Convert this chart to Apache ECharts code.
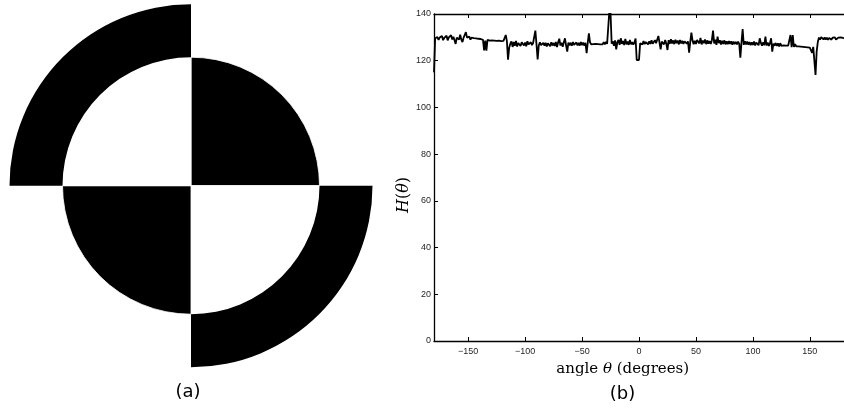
<!DOCTYPE html>
<html>
<head>
<meta charset="utf-8">
<script src="https://cdn.jsdelivr.net/npm/echarts@6/dist/echarts.min.js"></script>
<style>
html,body{margin:0;padding:0;background:#fff;}
#chart{width:844px;height:413px;}
</style>
</head>
<body>
<div id="chart"></div>
<script>
// ---- Panel (a): quadrant pattern ----
const quadrantNames = ['upper-right', 'lower-right', 'lower-left', 'upper-left'];
const quadrantValues = [1, 1, 1, 1];
const innerColors = ['#000000', '#ffffff', '#000000', '#ffffff'];
const outerColors = ['rgba(0,0,0,0)', '#000000', 'rgba(0,0,0,0)', '#000000'];

// ---- Panel (b): H(theta) ----
const thetaStart = -180; // degrees, 1-degree sampling
const H = [
  115.0,129.6,129.0,130.1,128.9,129.9,129.2,130.6,128.8,129.8, // -180..-171
  129.0,130.7,128.7,130.0,129.3,130.9,129.1,130.2,128.8,127.2, // -170..-161
  129.9,130.4,129.1,131.1,129.0,128.0,129.9,129.3,132.2,129.9, // -160..-151
  129.4,130.3,129.0,129.9,129.2,129.7,129.0,129.6,128.9,129.4, // -150..-141
  128.9,129.3,128.8,128.9,124.4,128.6,124.3,128.9,129.1,128.6, // -140..-131
  129.0,128.7,129.1,128.6,129.0,128.5,128.9,128.6,129.0,128.4, // -130..-121
  128.9,128.5,129.2,131.0,128.4,120.4,125.6,127.3,128.3,125.9, // -120..-111
  128.0,126.4,128.5,126.1,127.6,128.4,126.3,127.9,128.7,126.5, // -110..-101
  127.8,126.2,128.3,127.0,126.4,127.9,126.7,127.6,127.9,132.9, // -100..-91
  127.0,120.6,126.5,127.9,126.7,126.0,127.6,126.4,127.7,126.1, // -90..-81
  127.5,128.3,126.2,127.9,126.5,127.6,126.3,128.0,125.9,127.9, // -80..-71
  129.4,126.5,127.7,126.0,127.9,129.6,126.5,123.9,127.8,126.6, // -70..-61
  127.7,126.4,128.0,126.8,126.1,127.8,126.6,127.6,126.5,128.0, // -60..-51
  126.7,127.8,126.4,127.6,123.2,127.7,131.7,127.9,127.0,127.8, // -50..-41
  127.1,127.6,127.2,127.8,127.1,127.5,127.0,127.8,127.0,127.9, // -40..-31
  127.0,128.1,127.2,127.6,141.5,140.5,127.3,128.3,126.4,128.7, // -30..-21
  124.9,127.9,128.9,126.8,129.6,127.2,128.4,126.7,129.3,127.0, // -20..-11
  128.2,126.8,128.9,127.0,127.9,126.9,127.8,129.5,120.3,120.4, // -10..-1
  120.3,127.4,128.2,127.0,128.4,127.1,128.0,128.6,127.0,128.3, // 0..9
  127.2,128.7,127.3,126.8,128.8,127.5,126.9,130.6,127.8,124.9, // 10..19
  128.2,128.6,127.0,128.9,127.3,124.6,128.8,127.2,129.2,127.4, // 20..29
  128.7,127.1,129.0,127.5,128.6,127.0,128.9,127.4,128.5,127.2, // 30..39
  128.3,128.8,127.3,128.3,123.4,128.1,132.0,128.6,127.1,128.5, // 40..49
  127.2,128.9,129.5,127.4,129.8,127.0,128.6,127.5,129.1,127.1, // 50..59
  128.7,127.3,128.4,127.2,128.8,132.9,127.4,129.0,126.8,130.3, // 60..69
  127.5,128.8,126.9,128.5,127.2,128.7,127.0,128.3,127.1,128.4, // 70..79
  127.2,128.3,126.9,128.2,127.1,128.1,127.0,128.2,127.2,121.3, // 80..89
  127.9,133.5,126.8,128.3,127.0,128.2,126.9,128.0,126.7,127.9, // 90..99
  126.8,128.2,126.5,127.8,127.9,126.6,129.6,127.6,126.4,127.9, // 100..109
  126.6,130.3,126.5,127.8,126.3,127.6,129.6,123.9,127.3,126.4, // 110..119
  127.6,126.3,127.4,126.1,127.5,126.4,127.0,126.6,127.1,126.5, // 120..129
  127.0,126.5,126.9,131.0,125.8,131.0,125.9,127.1,126.2,127.0, // 130..139
  126.1,126.9,126.0,126.8,125.9,126.7,125.8,126.6,125.7,126.5, // 140..149
  125.6,126.4,123.4,125.9,125.6,113.9,124.0,128.0,129.9,129.0, // 150..159
  130.1,130.9,129.1,130.0,129.0,129.9,128.9,129.8,130.1,129.0, // 160..169
  129.9,129.1,130.0,129.0,129.8,129.9,129.1,130.0,129.2,129.8, // 170..179
  129.5                                                         // 180
];
const xTicks = [-150, -100, -50, 0, 50, 100, 150];

const lineData = H.map((v, i) => [thetaStart + i, v]);
const minus = s => String(s).replace('-', '\u2212');

const chart = echarts.init(document.getElementById('chart'), null, {renderer: 'canvas'});

const tickFont = {fontFamily: 'Liberation Sans, Arial, sans-serif', fontSize: 9, color: '#262626'};

chart.setOption({
  animation: false,
  backgroundColor: '#ffffff',
  grid: {left: 434, top: 14, right: -6, bottom: 72, containLabel: false},
  xAxis: [{
    type: 'value', min: -180, max: 180, position: 'bottom',
    axisLine: {show: true, onZero: false, lineStyle: {color: '#000', width: 1.3}},
    axisTick: {show: true, inside: true, length: 4, customValues: xTicks, lineStyle: {color: '#000'}},
    axisLabel: Object.assign({show: true, customValues: xTicks, margin: 6, formatter: v => minus(v)}, tickFont),
    splitLine: {show: false}
  }, {
    type: 'value', min: -180, max: 180, position: 'top',
    axisLine: {show: true, onZero: false, lineStyle: {color: '#000', width: 1.3}},
    axisTick: {show: true, inside: true, length: 4, customValues: xTicks, lineStyle: {color: '#000'}},
    axisLabel: {show: false},
    splitLine: {show: false}
  }],
  yAxis: {
    type: 'value', min: 0, max: 140, interval: 20,
    axisLine: {show: true, onZero: false, lineStyle: {color: '#000', width: 1.3}},
    axisTick: {show: true, inside: true, length: 4, lineStyle: {color: '#000'}},
    axisLabel: Object.assign({show: true, margin: 3}, tickFont),
    splitLine: {show: false}
  },
  series: [{
    type: 'line', xAxisIndex: 0, yAxisIndex: 0,
    data: lineData, showSymbol: false, symbol: 'none', clip: true,
    lineStyle: {color: '#000', width: 1.8},
    silent: true
  }, {
    type: 'pie', center: [191, 185.7], radius: [0, 128.5],
    startAngle: 90, clockwise: true, silent: true,
    label: {show: false}, labelLine: {show: false},
    emphasis: {disabled: true},
    itemStyle: {borderColor: '#ffffff', borderWidth: 0.8},
    data: quadrantNames.map((n, i) => ({name: n, value: quadrantValues[i], itemStyle: {color: innerColors[i]}}))
  }, {
    type: 'pie', center: [191, 185.7], radius: [128.5, 181.5],
    startAngle: 90, clockwise: true, silent: true,
    label: {show: false}, labelLine: {show: false},
    emphasis: {disabled: true},
    itemStyle: {borderColor: 'rgba(255,255,255,0)', borderWidth: 0},
    data: quadrantNames.map((n, i) => ({name: n + ' ring', value: quadrantValues[i], itemStyle: {color: outerColors[i]}}))
  }],
  graphic: [
    {type: 'text', x: 622.7, y: 369.3, silent: true,
     style: {text: '{n|angle }{i|θ}{n| (degrees)}', textAlign: 'center', textVerticalAlign: 'middle', fill: '#000',
             rich: {i: {fontFamily: 'DejaVu Serif', fontStyle: 'italic', fontSize: 15, fill: '#000'},
                    n: {fontFamily: 'DejaVu Serif', fontSize: 15, fill: '#000'}}}},
    {type: 'text', x: 404, y: 195, rotation: Math.PI / 2, silent: true,
     style: {text: '{i|H}{n|(}{i|θ}{n|)}', textAlign: 'center', textVerticalAlign: 'middle', fill: '#000',
             rich: {i: {fontFamily: 'DejaVu Serif', fontStyle: 'italic', fontSize: 16, fill: '#000'},
                    n: {fontFamily: 'DejaVu Serif', fontSize: 16, fill: '#000'}}}},
    {type: 'text', x: 188, y: 392.5, silent: true,
     style: {text: '(a)', font: '18px "DejaVu Sans", sans-serif', fill: '#000', textAlign: 'center', textVerticalAlign: 'middle'}},
    {type: 'text', x: 622.5, y: 394, silent: true,
     style: {text: '(b)', font: '18px "DejaVu Sans", sans-serif', fill: '#000', textAlign: 'center', textVerticalAlign: 'middle'}}
  ]
});
</script>
</body>
</html>
